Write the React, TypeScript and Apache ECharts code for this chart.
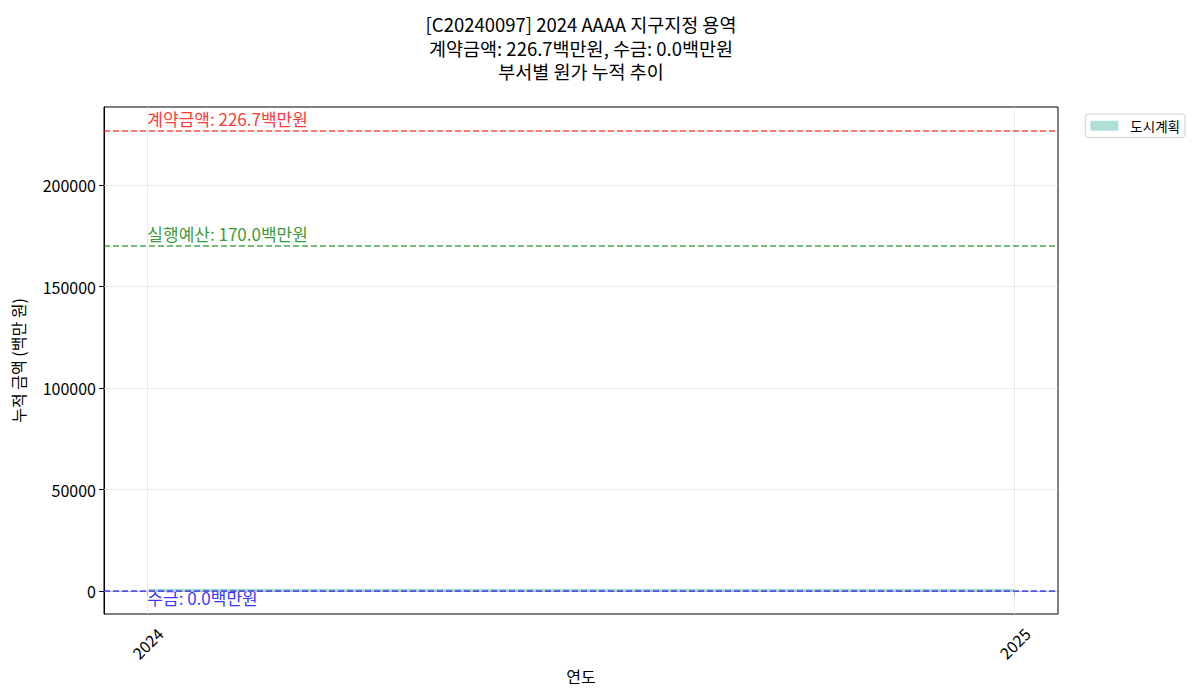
import React, { useEffect, useRef } from "react";
import * as echarts from "echarts";

const titleLines = ["[C20240097] 2024 AAAA 지구지정 용역", "계약금액: 226.7백만원, 수금: 0.0백만원", "부서별 원가 누적 추이"];
const years = [2024, 2025];
const deptName = "도시계획";
const deptValues = [1000, 1000];
const contractAmount = 226700;
const budgetAmount = 170000;
const collectedAmount = 0;
const yTicks = [0, 50000, 100000, 150000, 200000];
const refLines = [
  { label: "계약금액: 226.7백만원", value: contractAmount, line: "rgba(255,0,0,0.7)", text: "#ff0000", below: false },
  { label: "실행예산: 170.0백만원", value: budgetAmount, line: "rgba(0,128,0,0.7)", text: "#008000", below: false },
  { label: "수금: 0.0백만원", value: collectedAmount, line: "rgba(0,0,255,0.7)", text: "#0000ff", below: true },
];

const FONT = "'Noto Sans CJK KR', 'Noto Sans', sans-serif";

export default function App() {
  const ref = useRef<HTMLDivElement>(null);
  useEffect(() => {
    if (!ref.current) return;
    const chart = echarts.init(ref.current, null, { renderer: "svg" });
    const gridLines = [
      ...years.map((y) => ({ xAxis: y })),
      ...yTicks.map((v) => ({ yAxis: v })),
    ];
    chart.setOption({
      animation: false,
      textStyle: { fontFamily: FONT },
      title: titleLines.map((t, i) => ({
        text: t,
        left: 581,
        textAlign: "center",
        top: 14 + i * 23.5,
        padding: 0,
        textStyle: { fontFamily: FONT, fontSize: 18.5, fontWeight: "normal", color: "#000", lineHeight: 20 },
      })),
      legend: {
        right: 15,
        top: 114,
        orient: "vertical",
        data: [{ name: deptName, icon: "rect" }],
        itemWidth: 28,
        itemHeight: 10,
        itemGap: 8,
        padding: [5, 5, 5, 5],
        borderColor: "#d0d0d0",
        borderWidth: 1,
        borderRadius: 3,
        textStyle: { fontFamily: FONT, fontSize: 13.5, color: "#000", padding: [0, 0, 0, 7] },
      },
      grid: {
        left: 104,
        right: 142,
        top: 107,
        bottom: 86,
        show: true,
        borderColor: "#000",
        borderWidth: 1,
        backgroundColor: "transparent",
      },
      xAxis: {
        type: "value",
        min: 2023.95,
        max: 2025.05,
        name: "연도",
        nameLocation: "middle",
        nameGap: 53,
        nameTextStyle: { fontFamily: FONT, fontSize: 16, color: "#000" },
        axisLine: { show: true, lineStyle: { color: "#000" } },
        axisTick: { show: true, customValues: years, length: 5, lineStyle: { color: "#000" } },
        axisLabel: {
          customValues: years,
          rotate: 45,
          align: "center",
          verticalAlign: "middle",
          fontFamily: FONT,
          fontSize: 16,
          color: "#000",
          margin: 29,
          formatter: (v: number) => String(Math.round(v)),
        },
        splitLine: { show: false },
      },
      yAxis: {
        type: "value",
        min: -11330,
        max: 238424,
        name: "누적 금액 (백만 원)",
        nameLocation: "middle",
        nameGap: 78,
        nameRotate: 90,
        nameTextStyle: { fontFamily: FONT, fontSize: 16, color: "#000" },
        axisLine: { show: true, lineStyle: { color: "#000" } },
        axisTick: { show: true, customValues: yTicks, length: 5, lineStyle: { color: "#000" } },
        axisLabel: {
          customValues: yTicks,
          fontFamily: FONT,
          fontSize: 16,
          color: "#000",
          margin: 8,
          formatter: (v: number) => String(v),
        },
        splitLine: { show: false },
      },
      series: [
        {
          name: "grid",
          type: "line",
          data: [],
          silent: true,
          z: 0,
          markLine: {
            silent: true,
            symbol: "none",
            label: { show: false },
            lineStyle: { color: "#e6e6e6", width: 0.8, type: "solid" },
            data: gridLines,
          },
        },
        {
          name: deptName,
          type: "line",
          stack: "cost",
          data: years.map((y, i) => [y, deptValues[i]]),
          symbol: "none",
          lineStyle: { width: 0.5, color: "rgba(141,211,199,0.7)" },
          areaStyle: { color: "rgba(141,211,199,0.7)", opacity: 1 },
          itemStyle: { color: "rgba(141,211,199,0.7)" },
          z: 2,
        },
        ...refLines.map((r) => ({
          name: r.label,
          type: "scatter",
          data: [[years[0], r.value]],
          symbolSize: 0,
          silent: true,
          z: 4,
          label: {
            show: true,
            formatter: r.label,
            position: [0, r.below ? -2 : -4],
            align: "left",
            verticalAlign: r.below ? "top" : "bottom",
            fontFamily: FONT,
            fontSize: 17,
            color: r.text,
          },
          markLine: {
            silent: true,
            symbol: "none",
            label: { show: false },
            lineStyle: { color: r.line, width: 1.5, type: [6, 3] },
            data: [{ yAxis: r.value }],
          },
        })),
      ],
    });
    return () => chart.dispose();
  }, []);
  return <div ref={ref} style={{ width: 1200, height: 700, position: "absolute", left: 0, top: 0 }} />;
}
